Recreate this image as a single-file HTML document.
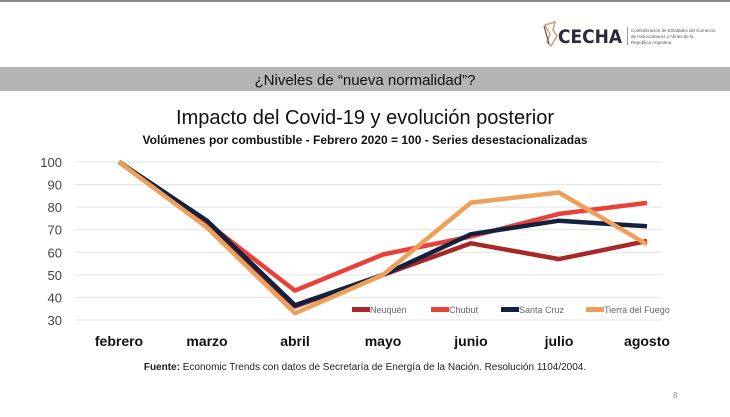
<!DOCTYPE html>
<html><head><meta charset="utf-8"><style>
body{margin:0;width:730px;height:412px;background:#fff;overflow:hidden;font-family:"Liberation Sans",sans-serif}
</style></head><body>
<svg width="730" height="412" xmlns="http://www.w3.org/2000/svg" font-family="Liberation Sans, sans-serif">
<rect x="0" y="0" width="730" height="2" fill="#888"/>
<g transform="translate(541,22)">
<path d="M4 3 L14 0 L12 8 L16 14 L10 24 L6 20 L9 12 Z" fill="none" stroke="#c9a070" stroke-width="1.5"/>
<path d="M3 4 L8 22" stroke="#555" stroke-width="1.2"/>
</g>
<text x="558" y="43" font-size="19" font-weight="bold" fill="#2a2a3a" textLength="64" lengthAdjust="spacingAndGlyphs" font-family="DejaVu Sans, sans-serif">CECHA</text>
<rect x="627" y="27" width="1" height="18" fill="#999"/>
<text x="631" y="32" font-size="4.5" fill="#555">Confederación de Entidades del Comercio</text>
<text x="631" y="38" font-size="4.5" fill="#555">de Hidrocarburos y Afines de la</text>
<text x="631" y="44" font-size="4.5" fill="#555">República Argentina</text>
<rect x="0" y="67" width="730" height="24" fill="#b5b5b7"/>
<text x="365" y="85" font-size="15" text-anchor="middle" fill="#111">¿Niveles de “nueva normalidad”?</text>
<text x="365" y="124" font-size="20" text-anchor="middle" fill="#111">Impacto del Covid-19 y evolución posterior</text>
<text x="365" y="144" font-size="12" font-weight="bold" text-anchor="middle" fill="#111">Volúmenes por combustible - Febrero 2020 = 100 - Series desestacionalizadas</text>
<g stroke="#e3e3e3" stroke-width="1">
<line x1="75" x2="662" y1="162" y2="162"/><line x1="75" x2="662" y1="184.6" y2="184.6"/>
<line x1="75" x2="662" y1="207.1" y2="207.1"/><line x1="75" x2="662" y1="229.7" y2="229.7"/>
<line x1="75" x2="662" y1="252.3" y2="252.3"/><line x1="75" x2="662" y1="274.9" y2="274.9"/>
<line x1="75" x2="662" y1="297.4" y2="297.4"/><line x1="75" x2="662" y1="320" y2="320"/>
</g>
<g font-size="13" fill="#444" text-anchor="end">
<text x="62" y="167">100</text><text x="62" y="189.6">90</text><text x="62" y="212.1">80</text>
<text x="62" y="234.7">70</text><text x="62" y="257.3">60</text><text x="62" y="279.9">50</text>
<text x="62" y="302.4">40</text><text x="62" y="325">30</text>
</g>
<g font-size="14" font-weight="bold" fill="#111" text-anchor="middle">
<text x="119" y="346">febrero</text><text x="207" y="346">marzo</text><text x="295" y="346">abril</text>
<text x="383" y="346">mayo</text><text x="471" y="346">junio</text><text x="559" y="346">julio</text><text x="647" y="346">agosto</text>
</g>
<g fill="none" stroke-width="4.5" stroke-linejoin="round">
<polyline stroke="#a8282a" points="119,162 207,222.9 295,306.5 383,274.9 471,243.3 559,259.1 647,241"/>
<polyline stroke="#e8413a" points="119,162 207,222.9 295,290.6 383,254.5 471,236.5 559,213.9 647,202.9"/>
<polyline stroke="#13213f" points="119,162 207,220.7 295,305.3 383,274.9 471,234.2 559,220.7 647,226.3"/>
<polyline stroke="#eda05a" points="119,162 207,227.5 295,313.2 383,274.9 471,202.6 559,192.5 647,244.4"/>
</g>
<rect x="352" y="307" width="18" height="5" fill="#a8282a"/>
<text x="370" y="313" font-size="9" fill="#666">Neuquén</text>
<rect x="431" y="307" width="18" height="5" fill="#e8413a"/>
<text x="449" y="313" font-size="9" fill="#666">Chubut</text>
<rect x="501" y="307" width="18" height="5" fill="#13213f"/>
<text x="519" y="313" font-size="9" fill="#666">Santa Cruz</text>
<rect x="586" y="307" width="18" height="5" fill="#eda05a"/>
<text x="604" y="313" font-size="9" fill="#666">Tierra del Fuego</text>
<text x="365" y="370" font-size="10" text-anchor="middle" fill="#222"><tspan font-weight="bold">Fuente:</tspan> Economic Trends con datos de Secretaría de Energía de la Nación. Resolución 1104/2004.</text>
<text x="673" y="398" font-size="8" fill="#888">8</text>
</svg>
</body></html>
